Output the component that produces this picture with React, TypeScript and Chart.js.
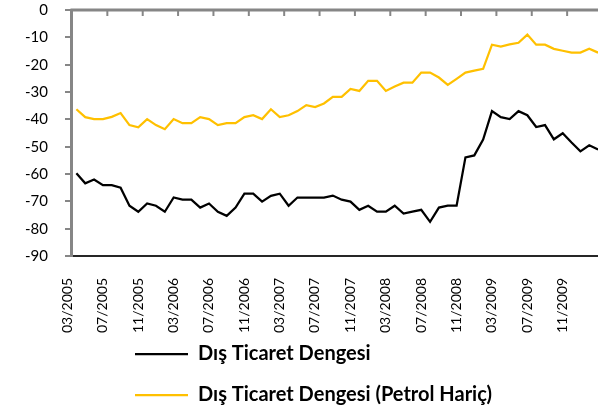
import React, { useEffect, useRef } from 'react';
import { Chart, registerables } from 'chart.js';

Chart.register(...registerables);

const months: string[] = [
  '03/2005', '04/2005', '05/2005', '06/2005', '07/2005', '08/2005', '09/2005', '10/2005', '11/2005', '12/2005',
  '01/2006', '02/2006', '03/2006', '04/2006', '05/2006', '06/2006', '07/2006', '08/2006', '09/2006', '10/2006', '11/2006', '12/2006',
  '01/2007', '02/2007', '03/2007', '04/2007', '05/2007', '06/2007', '07/2007', '08/2007', '09/2007', '10/2007', '11/2007', '12/2007',
  '01/2008', '02/2008', '03/2008', '04/2008', '05/2008', '06/2008', '07/2008', '08/2008', '09/2008', '10/2008', '11/2008', '12/2008',
  '01/2009', '02/2009', '03/2009', '04/2009', '05/2009', '06/2009', '07/2009', '08/2009', '09/2009', '10/2009', '11/2009', '12/2009',
  '01/2010', '02/2010',
];

const tradeBalance: number[] = [
  -59.7, -63.4, -62.0, -64.1, -64.1, -65.0, -71.6, -73.8, -70.8, -71.6,
  -73.8, -68.6, -69.4, -69.4, -72.3, -70.8, -73.8, -75.3, -72.3, -67.2,
  -67.2, -70.1, -68.0, -67.2, -71.6, -68.6, -68.6, -68.6, -68.6, -67.9,
  -69.4, -70.1, -73.1, -71.6, -73.8, -73.8, -71.6, -74.5, -73.8, -73.1,
  -77.5, -72.3, -71.6, -71.6, -53.9, -53.2, -47.4, -37.0, -39.2, -39.9,
  -37.0, -38.5, -42.8, -42.1, -47.3, -45.1, -48.5, -51.7, -49.5, -51.0,
];

const tradeBalanceExOil: number[] = [
  -36.3, -39.2, -39.9, -39.9, -39.1, -37.7, -42.1, -42.9, -39.9, -42.1,
  -43.6, -39.9, -41.4, -41.4, -39.2, -39.9, -42.1, -41.4, -41.4, -39.2,
  -38.5, -39.9, -36.3, -39.2, -38.5, -37.0, -34.8, -35.5, -34.2, -31.8,
  -31.8, -28.9, -29.6, -25.9, -25.9, -29.6, -28.0, -26.6, -26.6, -22.9,
  -22.9, -24.7, -27.4, -25.2, -22.9, -22.2, -21.5, -12.7, -13.4, -12.6,
  -12.0, -9.0, -12.7, -12.7, -14.2, -14.9, -15.6, -15.6, -14.2, -15.6,
];

const seriesNames: string[] = ['Dış Ticaret Dengesi', 'Dış Ticaret Dengesi (Petrol Hariç)'];
const seriesColors: string[] = ['#000000', '#FFC000'];

const Y_MIN = -90;
const Y_MAX = 0;
const Y_STEP = 10;
const LABEL_EVERY = 4;
const AXIS_GRAY = '#868686';
const FONT = 'Lato, "Open Sans", sans-serif';
const X_AXIS_HEIGHT = 67;
const LEGEND_START_X = 135;

const topAxisPlugin = {
  id: 'topAxis',
  afterDraw(chart: any) {
    const { ctx, chartArea } = chart;
    const xs = chart.scales.x;
    ctx.save();
    ctx.strokeStyle = AXIS_GRAY;
    ctx.lineWidth = 3;
    ctx.beginPath();
    ctx.moveTo(chartArea.left - 1.5, chartArea.top);
    ctx.lineTo(chartArea.right, chartArea.top);
    ctx.stroke();
    ctx.lineWidth = 2;
    for (let i = LABEL_EVERY; i < months.length; i += LABEL_EVERY) {
      const x = (xs.getPixelForValue(i - 1) + xs.getPixelForValue(i)) / 2;
      ctx.beginPath();
      ctx.moveTo(x, chartArea.top);
      ctx.lineTo(x, chartArea.top + 6);
      ctx.stroke();
    }
    ctx.restore();
  },
};

const layoutTweakPlugin = {
  id: 'layoutTweak',
  afterLayout(chart: any) {
    const lg = chart.legend;
    const xs = chart.scales.x;
    if (lg) {
      lg.left = LEGEND_START_X - lg.options.labels.padding;
      // let the rotated month labels draw past the compact axis box
      if (xs) xs.bottom = lg.bottom;
    }
  },
};

export default function App() {
  const canvasRef = useRef<HTMLCanvasElement | null>(null);

  useEffect(() => {
    if (!canvasRef.current) return;
    const chart = new Chart(canvasRef.current, {
      type: 'line',
      data: {
        labels: months,
        datasets: [
          {
            label: seriesNames[0],
            data: tradeBalance,
            borderColor: seriesColors[0],
            backgroundColor: seriesColors[0],
            borderWidth: 2.25,
            pointRadius: 0,
            tension: 0,
          },
          {
            label: seriesNames[1],
            data: tradeBalanceExOil,
            borderColor: seriesColors[1],
            backgroundColor: seriesColors[1],
            borderWidth: 2.25,
            pointRadius: 0,
            tension: 0,
          },
        ],
      },
      options: {
        animation: false,
        responsive: true,
        maintainAspectRatio: false,
        layout: { padding: { left: 8, top: 10, right: 3.5, bottom: 1 } },
        plugins: {
          legend: {
            position: 'bottom',
            align: 'start',
            labels: {
              usePointStyle: true,
              pointStyle: 'line',
              pointStyleWidth: 53,
              padding: 21,
              color: '#000',
              font: { family: FONT, size: 20, weight: 'bold' },
            },
          },
          tooltip: { enabled: false },
        },
        scales: {
          x: {
            type: 'category',
            offset: true,
            grid: { display: true, drawOnChartArea: false, drawTicks: false },
            border: { display: true, color: '#262626', width: 2 },
            ticks: {
              autoSkip: false,
              maxRotation: 90,
              minRotation: 90,
              padding: 22,
              labelOffset: -9,
              color: '#000',
              font: { family: FONT, size: 14 },
              callback: (_v: any, i: number) => (i % LABEL_EVERY === 0 ? months[i] : ''),
            },
            afterFit: (scale: any) => {
              scale.height = X_AXIS_HEIGHT;
              scale.paddingLeft = 0;
              scale.paddingRight = 0;
            },
          },
          y: {
            min: Y_MIN,
            max: Y_MAX,
            grid: { display: true, drawOnChartArea: false, drawTicks: true, tickLength: 7, color: AXIS_GRAY, lineWidth: 2 },
            border: { display: true, color: AXIS_GRAY, width: 3 },
            ticks: {
              stepSize: Y_STEP,
              autoSkip: false,
              padding: 17,
              color: '#000',
              font: { family: FONT, size: 15 },
            },
            afterFit: (scale: any) => {
              scale.paddingTop = 0;
              scale.paddingBottom = 0;
            },
          },
        },
      },
      plugins: [topAxisPlugin, layoutTweakPlugin],
    });
    return () => chart.destroy();
  }, []);

  return (
    <div style={{ position: 'fixed', left: 0, top: 0, width: 598, height: 416, overflow: 'hidden', background: '#fff' }}>
      <div style={{ position: 'relative', width: 606, height: 416 }}>
        <canvas ref={canvasRef} />
      </div>
    </div>
  );
}
